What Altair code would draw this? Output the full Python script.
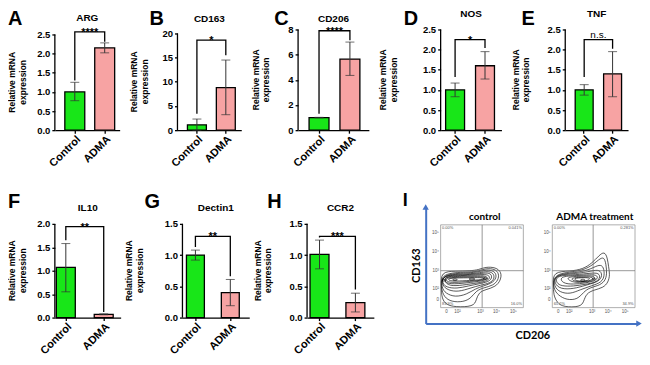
import altair as alt
import pandas as pd

# ---------------- data ----------------
genes = ["ARG", "CD163", "CD206", "NOS", "TNF", "IL10", "Dectin1", "CCR2"]
letters = ["A", "B", "C", "D", "E", "F", "G", "H"]
groups = ["Control", "ADMA"]
ytitle_lines = ["Relative mRNA", "expression"]
ctrl_mean = [1.00, 1.10, 1.00, 1.00, 1.00, 1.07, 1.00, 1.01]
ctrl_lo = [0.77, 0.00, 0.98, 0.83, 0.87, 0.55, 0.92, 0.78]
ctrl_hi = [1.25, 2.30, 1.02, 1.17, 1.13, 1.58, 1.08, 1.24]
adma_mean = [2.15, 8.80, 5.65, 1.60, 1.40, 0.07, 0.40, 0.24]
adma_lo = [2.02, 3.20, 4.35, 1.27, 0.83, 0.06, 0.19, 0.09]
adma_hi = [2.28, 14.50, 7.00, 1.95, 1.95, 0.08, 0.61, 0.39]
y_max = [2.5, 20, 8, 2.5, 2.5, 2.0, 1.5, 1.5]
y_ticks = [
    [0, 0.5, 1.0, 1.5, 2.0, 2.5],
    [0, 5, 10, 15, 20],
    [0, 2, 4, 6, 8],
    [0, 0.5, 1.0, 1.5, 2.0, 2.5],
    [0, 0.5, 1.0, 1.5, 2.0, 2.5],
    [0, 0.5, 1.0, 1.5, 2.0],
    [0, 0.5, 1.0, 1.5],
    [0, 0.5, 1.0, 1.5],
]
y_fmt = [".1f", "d", "d", ".1f", ".1f", ".1f", ".1f", ".1f"]
bracket_y = [2.57, 18.6, 7.9, 2.25, 2.25, 1.94, 1.30, 1.30]
leg_ctrl = [1.30, 3.4, 1.30, 1.32, 1.32, 1.65, 1.13, 1.28]
leg_adma = [2.31, 15.5, 7.15, 2.04, 2.02, 0.12, 0.66, 0.45]
sig = ["****", "*", "****", "*", "n.s.", "**", "**", "***"]

# flow cytometry panel (display units: decades of fluorescence)
flow_titles = ["control", "ADMA treatment"]
flow_pct = [["0.00%", "0.041%", "83.9%", "16.0%"], ["0.00%", "0.281%", "65.2%", "34.9%"]]
flow_ytick_pos = [5.0, 4.0, 3.0, 2.05, 1.47]
flow_ytick_lab = ["10\u2075", "10\u2074", "10\u00b3", "10\u00b2", "0"]
flow_xtick_pos = [1.0, 1.65, 3.0, 3.95, 4.95]
flow_xtick_lab = ["0", "10\u00b2", "10\u00b3", "10\u2074", "10\u2075"]
flow_box = [0.65, 5.53, 1.05, 5.42]
flow_quad = [[3.10, 3.0], [3.06, 3.0]]

ctrl_contours = [
    [(0.67, 2.95), (1.5, 2.97), (2.4, 2.99), (2.9, 3.05), (3.3, 3.2), (3.9, 3.18), (4.25, 2.92), (4.2, 2.5),
     (3.9, 2.15), (3.3, 2.0), (2.9, 1.85), (2.75, 1.45), (2.6, 1.1), (1.5, 1.08), (1.0, 1.2), (0.72, 1.5), (0.67, 2.2)],
    [(0.67, 2.89), (2.3, 2.92), (2.9, 2.98), (3.3, 3.12), (3.85, 3.1), (4.1, 2.85), (4.05, 2.5), (3.75, 2.22),
     (3.2, 2.1), (2.75, 1.95), (2.45, 1.55), (2.0, 1.35), (1.3, 1.35), (0.85, 1.6), (0.67, 2.1)],
    [(0.7, 2.84), (2.3, 2.87), (2.95, 2.95), (3.35, 3.05), (3.8, 3.0), (3.98, 2.72), (3.78, 2.38), (3.2, 2.2),
     (2.7, 2.05), (2.2, 1.75), (1.5, 1.6), (0.95, 1.8), (0.7, 2.1)],
    [(0.72, 2.8), (2.3, 2.82), (3.0, 2.9), (3.4, 2.97), (3.75, 2.9), (3.85, 2.6), (3.58, 2.34), (3.0, 2.24),
     (2.4, 2.08), (1.7, 1.88), (1.1, 1.96), (0.72, 2.22)],
    [(0.75, 2.76), (2.2, 2.78), (3.0, 2.85), (3.45, 2.9), (3.7, 2.77), (3.62, 2.45), (3.0, 2.32), (2.3, 2.2),
     (1.6, 2.05), (1.0, 2.12), (0.75, 2.32)],
    [(0.8, 2.72), (2.0, 2.74), (3.0, 2.8), (3.5, 2.8), (3.58, 2.56), (3.2, 2.4), (2.4, 2.3), (1.5, 2.18),
     (0.95, 2.26)],
    [(0.85, 2.68), (1.9, 2.7), (2.9, 2.74), (3.45, 2.72), (3.38, 2.48), (2.4, 2.38), (1.4, 2.28), (0.9, 2.36)],
    [(0.95, 2.64), (2.0, 2.66), (2.9, 2.69), (3.38, 2.66), (3.22, 2.5), (2.4, 2.44), (1.4, 2.36), (0.98, 2.42)],
    [(1.1, 2.61), (2.0, 2.62), (2.9, 2.64), (3.3, 2.62), (3.1, 2.52), (2.4, 2.49), (1.5, 2.44), (1.1, 2.48)],
    [(2.25, 2.56), (2.5, 2.63), (2.75, 2.56), (2.5, 2.49)],
    [(3.12, 2.58), (3.3, 2.64), (3.48, 2.58), (3.3, 2.52)],
    [(1.3, 2.52), (1.5, 2.58), (1.7, 2.52), (1.5, 2.46)],
    [(0.7, 2.5), (0.85, 2.57), (1.0, 2.5), (0.85, 2.43)],
]
adma_contours = [
    [(0.7, 2.95), (1.7, 2.97), (2.45, 3.08), (3.0, 3.4), (3.4, 3.8), (3.72, 4.02), (3.9, 3.7), (3.97, 3.2),
     (4.05, 2.8), (3.95, 2.38), (3.65, 2.1), (3.1, 1.98), (2.65, 1.8), (2.5, 1.35), (2.3, 1.08), (1.3, 1.08),
     (0.95, 1.3), (0.72, 1.7), (0.7, 2.3)],
    [(0.7, 2.88), (2.27, 2.95), (2.95, 3.24), (3.4, 3.6), (3.7, 3.74), (3.82, 3.35), (3.88, 2.82), (3.75, 2.42),
     (3.35, 2.2), (2.85, 2.1), (2.5, 1.88), (2.15, 1.48), (1.5, 1.45), (1.0, 1.7), (0.7, 2.05)],
    [(0.72, 2.82), (2.25, 2.9), (2.95, 3.1), (3.45, 3.34), (3.68, 3.2), (3.74, 2.75), (3.57, 2.38), (2.95, 2.2),
     (2.3, 2.0), (1.7, 1.76), (1.1, 1.86), (0.75, 2.15)],
    [(0.75, 2.78), (2.1, 2.84), (2.95, 2.98), (3.45, 3.07), (3.62, 2.75), (3.4, 2.42), (2.75, 2.27), (2.1, 2.08),
     (1.3, 2.0), (0.8, 2.22)],
    [(0.85, 2.74), (2.05, 2.78), (2.95, 2.88), (3.42, 2.88), (3.48, 2.6), (3.2, 2.38), (2.6, 2.28), (1.9, 2.18),
     (1.2, 2.18), (0.88, 2.35)],
    [(1.05, 2.7), (2.1, 2.74), (2.9, 2.8), (3.34, 2.76), (3.32, 2.5), (2.6, 2.34), (1.9, 2.28), (1.25, 2.32)],
    [(1.4, 2.66), (2.2, 2.7), (2.85, 2.74), (3.22, 2.68), (3.05, 2.45), (2.4, 2.38), (1.8, 2.38)],
    [(1.7, 2.62), (2.4, 2.66), (2.9, 2.68), (3.1, 2.6), (2.85, 2.45), (2.3, 2.41), (1.9, 2.45)],
    [(1.85, 2.6), (2.5, 2.64), (2.95, 2.62), (2.7, 2.44), (2.1, 2.44)],
    [(2.25, 2.5), (2.45, 2.57), (2.65, 2.5), (2.45, 2.43)],
    [(2.95, 2.56), (3.1, 2.62), (3.25, 2.56), (3.1, 2.5)],
]

# ---------------- style / layout ----------------
FONT = "Liberation Sans"
GREEN = "#18E618"
PINK = "#F7A3A3"
BLUE = "#4472C4"
ERR = "#333333"

# w,h plot size; dom y-scale top; pi/po/al band padding; tl y-title left edge;
# lx,ly letter pos; tb title baseline
LAYOUT = {
    "ARG":     dict(w=65, h=101, dom=2.63,  pi=0.333, po=0.25,  al=0.667, tl=47, lx=-47, ly=-20, tb=-9),
    "CD163":   dict(w=64, h=101, dom=20.82, pi=0.345, po=0.276, al=0.625, tl=48, lx=-28, ly=-20, tb=-8),
    "CD206":   dict(w=71, h=101, dom=8.0,   pi=0.355, po=0.323, al=0.55,  tl=47, lx=-24, ly=-20, tb=-8),
    "NOS":     dict(w=61, h=101, dom=2.5,   pi=0.367, po=0.2,   al=0.417, tl=62, lx=-37, ly=-20, tb=-13),
    "TNF":     dict(w=63, h=101, dom=2.5,   pi=0.368, po=0.289, al=0.606, tl=54, lx=-44, ly=-20, tb=-13),
    "IL10":    dict(w=66, h=111, dom=2.362, pi=0.5,   po=0.118, al=0.167, tl=47, lx=-47, ly=-15, tb=4),
    "Dectin1": dict(w=67, h=111, dom=1.771, pi=0.486, po=0.2,   al=0.286, tl=58, lx=-38, ly=-15, tb=4),
    "CCR2":    dict(w=67, h=111, dom=1.771, pi=0.472, po=0.167, al=0.25,  tl=54, lx=-40, ly=-15, tb=4),
}


def bar_panel(k):
    g = genes[k]
    L = LAYOUT[g]
    w, h = L["w"], L["h"]
    step = w / (2 - L["pi"] + 2 * L["po"])
    xs = alt.Scale(domain=groups, paddingInner=L["pi"], paddingOuter=L["po"], align=L["al"])
    ys = alt.Scale(domain=[0, L["dom"]], nice=False, zero=True)
    xax = alt.Axis(title=None, labelAngle=-45, labelFont=FONT, labelFontSize=11, labelFontWeight="bold",
                   labelColor="black", tickSize=3, tickColor="black", tickWidth=1.3, domainColor="black",
                   domainWidth=1.3, labelPadding=0, grid=False)
    yax = alt.Axis(title=None, values=y_ticks[k], format=y_fmt[k], labelFont=FONT, labelFontSize=9.5,
                   labelFontWeight="bold", labelColor="black", tickSize=3, tickColor="black",
                   tickWidth=1.3, domain=False, labelPadding=2, grid=False)

    def X():
        return alt.X("group:N", scale=xs, axis=xax, sort=groups)

    def Y(f):
        return alt.Y(f"{f}:Q", scale=ys, axis=yax)

    df = pd.DataFrame({"group": groups, "mean": [ctrl_mean[k], adma_mean[k]],
                       "lo": [ctrl_lo[k], adma_lo[k]], "hi": [ctrl_hi[k], adma_hi[k]]})
    caps = pd.DataFrame({"group": groups * 2, "v": [ctrl_lo[k], adma_lo[k], ctrl_hi[k], adma_hi[k]]})
    br = pd.DataFrame({"group": ["Control", "Control", "ADMA", "ADMA"],
                       "v": [leg_ctrl[k], bracket_y[k], bracket_y[k], leg_adma[k]], "o": [0, 1, 2, 3]})
    sdf = pd.DataFrame({"group": ["Control"], "v": [bracket_y[k]], "t": [sig[k]]})
    one = pd.DataFrame({"letter": [letters[k]], "gene": [g], "l1": [ytitle_lines[0]], "l2": [ytitle_lines[1]],
                        "y0": [0], "y1": [y_max[k]]})
    yc = h - (y_max[k] / L["dom"]) * h / 2

    yline = alt.Chart(one).mark_rule(color="black", strokeWidth=1.3).encode(
        x=alt.value(0), y=Y("y0"), y2="y1:Q")
    bars = alt.Chart(df).mark_bar(stroke="black", strokeWidth=1.3).encode(
        x=X(), y=Y("mean"),
        color=alt.Color("group:N", scale=alt.Scale(domain=groups, range=[GREEN, PINK]), legend=None))
    err = alt.Chart(df).mark_rule(color=ERR, strokeWidth=1).encode(x=X(), y=Y("lo"), y2="hi:Q")
    cap = alt.Chart(caps).mark_tick(color=ERR, thickness=1, size=9).encode(x=X(), y=Y("v"))
    brk = alt.Chart(br).mark_line(color="black", strokeWidth=1.3).encode(x=X(), y=Y("v"), order="o:Q")
    is_star = sig[k].startswith("*")
    stx = alt.Chart(sdf).mark_text(dx=step / 2, dy=4 if is_star else -1.5, baseline="alphabetic",
                                   align="center", font=FONT, fontSize=11 if is_star else 10,
                                   fontWeight="bold" if is_star else "normal", color="black").encode(
        x=X(), y=Y("v"), text="t:N")
    let = alt.Chart(one).mark_text(align="left", baseline="top", font=FONT, fontSize=20,
                                   fontWeight="bold", color="black").encode(
        x=alt.value(L["lx"]), y=alt.value(L["ly"]), text="letter:N")
    ttl = alt.Chart(one).mark_text(align="center", baseline="alphabetic", font=FONT, fontSize=10,
                                   fontWeight="bold", color="black").encode(
        x=alt.value(w / 2), y=alt.value(L["tb"]), text="gene:N")
    yt1 = alt.Chart(one).mark_text(angle=270, align="center", baseline="middle", font=FONT, fontSize=8.5,
                                   fontWeight="bold", color="black").encode(
        x=alt.value(-L["tl"] + 4.5), y=alt.value(yc), text="l1:N")
    yt2 = alt.Chart(one).mark_text(angle=270, align="center", baseline="middle", font=FONT, fontSize=8.5,
                                   fontWeight="bold", color="black").encode(
        x=alt.value(-L["tl"] + 15), y=alt.value(yc), text="l2:N")
    return alt.layer(bars, err, cap, brk, yline, stx, let, ttl, yt1, yt2).properties(width=w, height=h)


# ---------------- panel I ----------------
I_W, I_H = 214, 117
XMIN, XMAX = -0.232, 12.356
YMIN, YMAX = 0.209, 6.367
OFFS = [0.0, 6.59]


def flow_panel():
    xs = alt.Scale(domain=[XMIN, XMAX], nice=False, zero=False)
    ys = alt.Scale(domain=[YMIN, YMAX], nice=False, zero=False)
    xax = alt.Axis(title="CD206", labels=False, ticks=False, grid=False, domainColor=BLUE, domainWidth=2,
                   titleFont="Lato", titleFontSize=11, titleFontWeight="bold", titleColor="black",
                   titlePadding=6)
    yax = alt.Axis(title="CD163", labels=False, ticks=False, grid=False, domainColor=BLUE, domainWidth=2,
                   titleFont="Lato", titleFontSize=11, titleFontWeight="bold", titleColor="black",
                   titlePadding=4)

    def X(f="x"):
        return alt.X(f"{f}:Q", scale=xs, axis=xax)

    def Y(f="y"):
        return alt.Y(f"{f}:Q", scale=ys, axis=yax)

    rows = []
    for p, loops in enumerate([ctrl_contours, adma_contours]):
        for li, loop in enumerate(loops):
            for i, (x, y) in enumerate(loop):
                rows.append({"loop": f"{p}-{li}", "i": i, "x": x + OFFS[p], "y": y})
    cdf = pd.DataFrame(rows)

    boxes = pd.DataFrame({"x": [flow_box[0] + o for o in OFFS], "x2": [flow_box[1] + o for o in OFFS],
                          "y": [flow_box[2]] * 2, "y2": [flow_box[3]] * 2})
    quad = pd.DataFrame({
        "x": [flow_quad[0][0], flow_box[0], flow_quad[1][0] + OFFS[1], flow_box[0] + OFFS[1]],
        "x2": [flow_quad[0][0], flow_box[1], flow_quad[1][0] + OFFS[1], flow_box[1] + OFFS[1]],
        "y": [flow_box[2], flow_quad[0][1], flow_box[2], flow_quad[1][1]],
        "y2": [flow_box[3], flow_quad[0][1], flow_box[3], flow_quad[1][1]]})
    ytk = pd.DataFrame([{"x": 0.55 + o, "y": yv, "t": t} for o in OFFS
                        for yv, t in zip(flow_ytick_pos, flow_ytick_lab)])
    xtk = pd.DataFrame([{"x": xv + o, "y": 0.98, "t": t} for o in OFFS
                        for xv, t in zip(flow_xtick_pos, flow_xtick_lab)])
    pl = pd.DataFrame([{"x": flow_box[0] + 0.08 + o, "y": yv, "t": flow_pct[p][j], "b": b}
                       for p, o in enumerate(OFFS)
                       for j, yv, b in [(0, flow_box[3] - 0.08, "top"), (2, flow_box[2] + 0.08, "bottom")]])
    pr = pd.DataFrame([{"x": flow_box[1] - 0.08 + o, "y": yv, "t": flow_pct[p][j], "b": b}
                       for p, o in enumerate(OFFS)
                       for j, yv, b in [(1, flow_box[3] - 0.08, "top"), (3, flow_box[2] + 0.08, "bottom")]])
    tt = pd.DataFrame({"x": [3.25, 9.75], "y": [5.84, 5.84], "t": flow_titles})
    up = pd.DataFrame({"x": [XMIN], "y": [YMAX]})
    right = pd.DataFrame({"x": [XMAX], "y": [YMIN]})

    lines = alt.Chart(cdf).mark_line(interpolate="basis-closed", color="black", strokeWidth=0.65).encode(
        x=X(), y=Y(), detail="loop:N", order="i:Q")
    box = alt.Chart(boxes).mark_rect(fillOpacity=0, stroke="#8a8a8a", strokeWidth=0.7).encode(
        x=X(), x2="x2:Q", y=Y(), y2="y2:Q")
    q = alt.Chart(quad).mark_rule(color="#6a6a6a", strokeWidth=0.7).encode(x=X(), x2="x2:Q", y=Y(), y2="y2:Q")
    ytext = alt.Chart(ytk).mark_text(align="right", baseline="middle", font=FONT, fontSize=4.5,
                                     color="#555").encode(x=X(), y=Y(), text="t:N")
    xtext = alt.Chart(xtk).mark_text(align="center", baseline="top", font=FONT, fontSize=4.5,
                                     color="#555").encode(x=X(), y=Y(), text="t:N")
    pct_layers = []
    for d, al in [(pl, "left"), (pr, "right")]:
        for b in ["top", "bottom"]:
            pct_layers.append(alt.Chart(d[d.b == b]).mark_text(align=al, baseline=b, font=FONT, fontSize=4,
                                                               color="#555").encode(x=X(), y=Y(), text="t:N"))
    titles = alt.Chart(tt).mark_text(align="center", baseline="middle", font="Lato", fontSize=10,
                                     fontWeight="bold", color="black").encode(x=X(), y=Y(), text="t:N")
    a_up = alt.Chart(up).mark_point(shape="triangle-up", filled=True, color=BLUE, size=40, opacity=1).encode(
        x=X(), y=Y())
    a_rt = alt.Chart(right).mark_point(shape="triangle-right", filled=True, color=BLUE, size=40,
                                       opacity=1).encode(x=X(), y=Y())
    let = alt.Chart(pd.DataFrame({"t": ["I"]})).mark_text(align="left", baseline="top", font=FONT, fontSize=18,
                                                          fontWeight="bold", color="black").encode(
        x=alt.value(-23), y=alt.value(-15), text="t:N")
    anchor = alt.Chart(pd.DataFrame({"t": [0]})).mark_rule(strokeOpacity=0, strokeWidth=0.1).encode(
        x=alt.value(-48), y=alt.value(0), y2=alt.value(5))
    return alt.layer(lines, box, q, ytext, xtext, *pct_layers, titles,
                     a_up, a_rt, let, anchor).properties(width=I_W, height=I_H)


row1 = alt.hconcat(*[bar_panel(k) for k in range(5)], spacing=10)
row2 = alt.hconcat(*[bar_panel(k) for k in range(5, 8)], flow_panel(), spacing=4)
chart = alt.vconcat(row1, row2, spacing=23).properties(padding=0, background="white").configure_view(stroke=None)

chart.save("out.html", embed_options={"renderer": "svg", "actions": False})
